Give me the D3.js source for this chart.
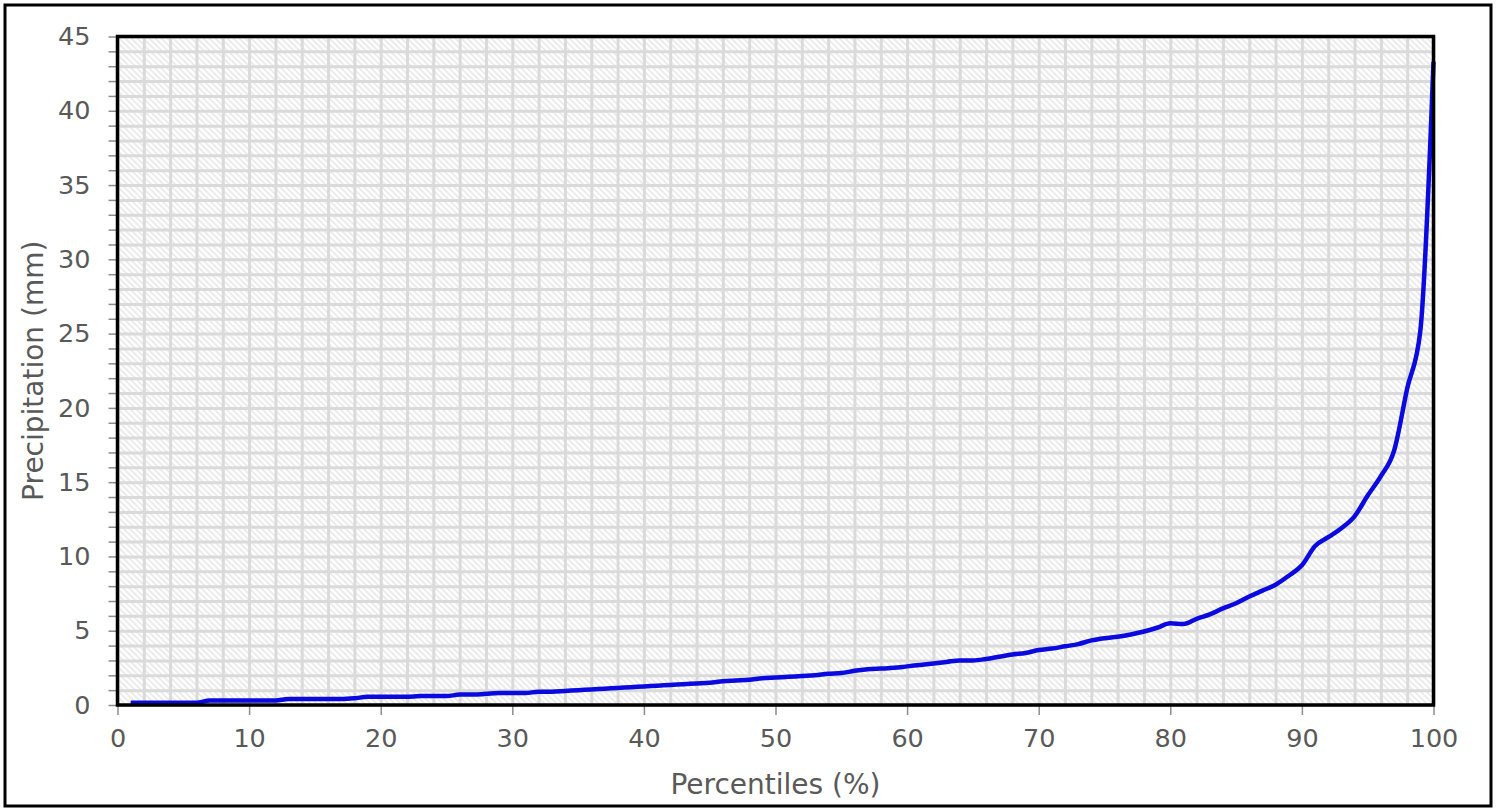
<!DOCTYPE html>
<meta charset="utf-8">
<script src="https://d3js.org/d3.v7.min.js"></script>
<style>
body { margin: 0; background: #fff; }
text { font-family: "DejaVu Sans", Verdana, sans-serif; fill: #595959; }
.grid line { stroke: #dadada; stroke-width: 3; }
.grid path { stroke-width: 0; }
.axis path { stroke-width: 0; }
.axis line { stroke: #8c8c8c; stroke-width: 1.5; }
.axis text { font-size: 25.5px; }
.title { font-size: 28px; }
</style>
<div id="chart"></div>
<script>
// percentiles (%) and precipitation (mm)
var percentiles = d3.range(1, 101);
var precipitation = [
  0.15, 0.15, 0.15, 0.15, 0.15, 0.15, 0.3, 0.3, 0.3, 0.3,
  0.3, 0.3, 0.4, 0.4, 0.4, 0.4, 0.4, 0.45, 0.55, 0.55,
  0.55, 0.55, 0.6, 0.6, 0.6, 0.7, 0.7, 0.75, 0.8, 0.8,
  0.8, 0.9, 0.9, 0.95, 1.0, 1.05, 1.1, 1.15, 1.2, 1.25,
  1.3, 1.35, 1.4, 1.45, 1.5, 1.6, 1.65, 1.7, 1.8, 1.85,
  1.9, 1.95, 2.0, 2.1, 2.15, 2.3, 2.4, 2.45, 2.5, 2.6,
  2.7, 2.8, 2.9, 3.0, 3.0, 3.1, 3.25, 3.4, 3.5, 3.7,
  3.8, 3.95, 4.1, 4.35, 4.5, 4.6, 4.75, 4.95, 5.2, 5.5,
  5.45, 5.8, 6.1, 6.5, 6.85, 7.3, 7.7, 8.1, 8.7, 9.4,
  10.7, 11.3, 11.9, 12.7, 14.1, 15.4, 17.1, 21.3, 25.2, 43.3
];
var xTicks = [0, 10, 20, 30, 40, 50, 60, 70, 80, 90, 100];
var yTicks = [0, 5, 10, 15, 20, 25, 30, 35, 40, 45];
var xGrid = d3.range(0, 101, 2);
var yGrid = d3.range(0, 46, 1);

var W = 1496, H = 808;
var margin = {top: 36.5, right: 62.5, bottom: 103, left: 117.5},
    width = W - margin.left - margin.right,
    height = H - margin.top - margin.bottom;

var svg = d3.select("#chart").append("svg")
    .attr("width", W).attr("height", H);

// hatch pattern for the plot background
var defs = svg.append("defs");
var pat = defs.append("pattern")
    .attr("id", "hatch")
    .attr("patternUnits", "userSpaceOnUse")
    .attr("width", 6).attr("height", 6);
pat.append("rect").attr("width", 6).attr("height", 6).attr("fill", "#fff");
pat.append("path")
    .attr("d", "M0,0 L6,6 M-1,5 L1,7 M5,-1 L7,1")
    .attr("stroke", "#dcdcdc").attr("stroke-width", 1.1);

// outer frame
svg.append("rect")
    .attr("x", 5).attr("y", 5).attr("width", 1486).attr("height", 801)
    .attr("fill", "none").attr("stroke", "#000").attr("stroke-width", 3);

var g = svg.append("g")
    .attr("transform", "translate(" + margin.left + "," + margin.top + ")");

var x = d3.scaleLinear().domain([0, 100]).range([0, width]);
var y = d3.scaleLinear().domain([0, 45]).range([height, 0]);

g.append("rect")
    .attr("width", width).attr("height", height)
    .attr("fill", "url(#hatch)");

// grid lines
g.append("g").attr("class", "grid")
    .attr("transform", "translate(0," + height + ")")
    .call(d3.axisBottom(x).tickValues(xGrid).tickSize(-height).tickFormat(""));
g.append("g").attr("class", "grid")
    .call(d3.axisLeft(y).tickValues(yGrid).tickSize(-width).tickFormat(""));

// axes
g.append("g").attr("class", "axis")
    .attr("transform", "translate(0," + height + ")")
    .call(d3.axisBottom(x).tickValues(xTicks).tickSize(10).tickPadding(14));

g.append("g").attr("class", "axis")
    .call(d3.axisLeft(y).tickValues(yGrid).tickSize(9).tickPadding(18)
        .tickFormat(function(d) { return yTicks.indexOf(d) >= 0 ? d : ""; }));

// curve
var line = d3.line()
    .x(function(d, i) { return x(percentiles[i]); })
    .y(function(d) { return y(d); })
    .curve(d3.curveMonotoneX);

g.append("path")
    .datum(precipitation)
    .attr("fill", "none")
    .attr("stroke", "#0a0ae0")
    .attr("stroke-width", 4.5)
    .attr("stroke-linejoin", "round")
    .attr("d", line);

// plot frame
g.append("rect")
    .attr("width", width).attr("height", height)
    .attr("fill", "none").attr("stroke", "#000").attr("stroke-width", 3.5);

// axis titles
svg.append("text").attr("class", "title")
    .attr("x", margin.left + width / 2).attr("y", 794)
    .attr("text-anchor", "middle")
    .text("Percentiles (%)");

svg.append("text").attr("class", "title")
    .attr("transform", "translate(43," + (margin.top + height / 2) + ") rotate(-90)")
    .attr("text-anchor", "middle")
    .text("Precipitation (mm)");
</script>
